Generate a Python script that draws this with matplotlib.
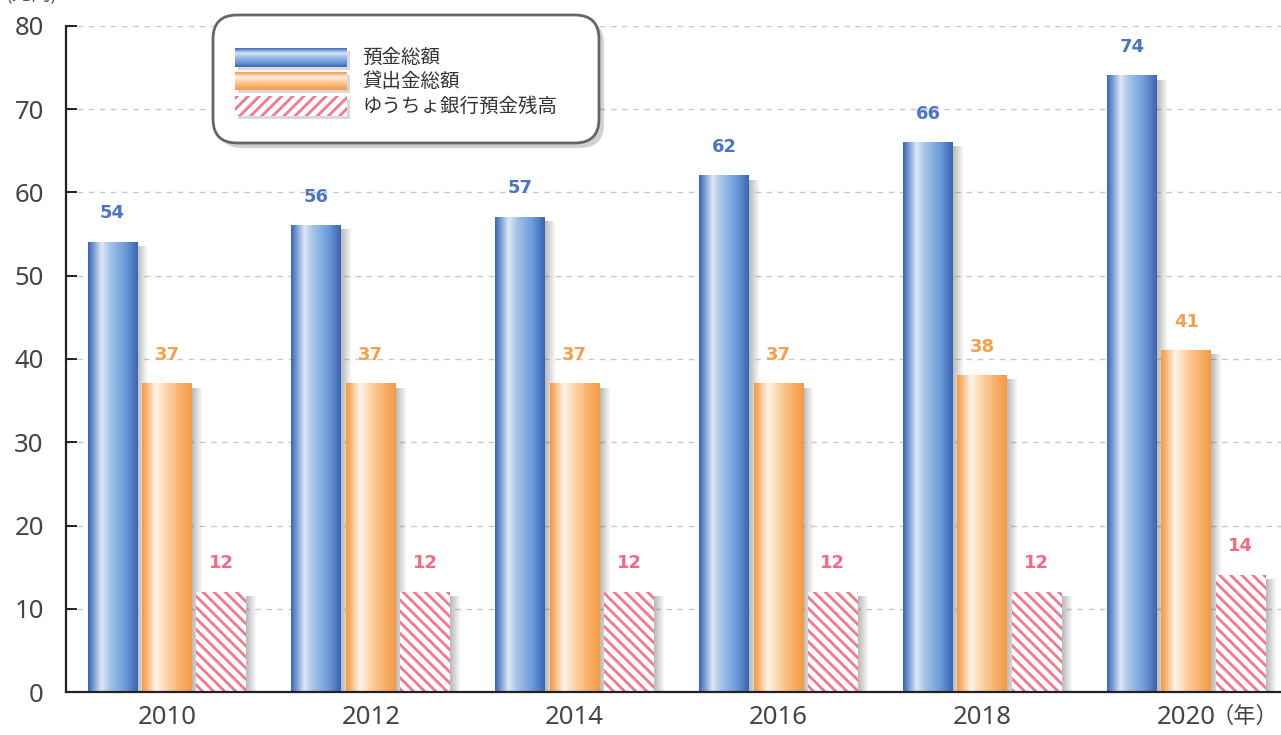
import numpy as np
import matplotlib
matplotlib.use('Agg')
import matplotlib.pyplot as plt
from matplotlib.patches import FancyBboxPatch, Rectangle
from matplotlib.colors import LinearSegmentedColormap

# ---- data ----
years = ['2010', '2012', '2014', '2016', '2018', '2020']
deposits = [54, 56, 57, 62, 66, 74]        # 預金総額
loans = [37, 37, 37, 37, 38, 41]           # 貸出金総額
yucho = [12, 12, 12, 12, 12, 14]           # ゆうちょ銀行預金残高
series_names = ['預金総額', '貸出金総額', 'ゆうちょ銀行預金残高']
yticks = [0, 10, 20, 30, 40, 50, 60, 70, 80]
unit_label = '(兆円)'
year_suffix = '（年）'

plt.rcParams['font.family'] = ['Noto Sans', 'Noto Sans CJK JP', 'DejaVu Sans']
plt.rcParams['hatch.linewidth'] = 2.0

W, H = 1281, 735
fig = plt.figure(figsize=(W / 100, H / 100), dpi=100)
ax = fig.add_axes([66 / W, 1 - 692 / H, 1 - 66 / W, (692 - 26) / H])

blue_c = '#4a74c4'
orange_c = '#f5a050'
pink_c = '#f36a82'
hatch_c = '#f4778c'

blue_cmap = LinearSegmentedColormap.from_list('b', [
    (0.0, '#3a64b4'), (0.1, '#6f95d0'), (0.27, '#dde8f6'), (0.45, '#a3c2e8'),
    (0.75, '#6b9bd9'), (1.0, '#3a64b4')])
orange_cmap = LinearSegmentedColormap.from_list('o', [
    (0.0, '#f39a42'), (0.1, '#f8b577'), (0.28, '#fff4ea'), (0.5, '#fdd2a6'),
    (0.8, '#f9ad64'), (1.0, '#f39a42')])

grad = np.linspace(0, 1, 256).reshape(1, -1)
x = np.arange(len(years))
w = 0.245
off = 0.267


def add_shadow(x1, h):
    rgba = np.zeros((1, 64, 4))
    rgba[..., :3] = 0.3
    rgba[..., 3] = np.linspace(0.4, 0.0, 64)
    ax.imshow(rgba, extent=[x1, x1 + 0.05, 0, h - 0.5], aspect='auto',
              zorder=1.5, interpolation='bilinear')


def gradient_bars(vals, xpos, cmap):
    bars = ax.bar(xpos, vals, w, facecolor='none', edgecolor='none', zorder=2)
    for r in bars:
        x0, hh, ww = r.get_x(), r.get_height(), r.get_width()
        add_shadow(x0 + ww, hh)
        ax.imshow(grad, cmap=cmap, extent=[x0, x0 + ww, 0, hh], aspect='auto',
                  zorder=2, interpolation='bicubic')
    return bars


gradient_bars(deposits, x - off, blue_cmap)
gradient_bars(loans, x, orange_cmap)
pb = ax.bar(x + off, yucho, w, facecolor='white', edgecolor=hatch_c,
            linewidth=0, hatch='\\\\\\', zorder=2)
for r in pb:
    add_shadow(r.get_x() + r.get_width(), r.get_height())

for vals, xpos, c in [(deposits, x - off, blue_c), (loans, x, orange_c),
                      (yucho, x + off, pink_c)]:
    for xi, v in zip(xpos, vals):
        ax.text(xi, v + 2.4, str(v), ha='center', va='bottom', color=c,
                fontsize=13, fontweight='bold', family='DejaVu Sans', zorder=4)

ax.set_xlim(-0.495, 5.465)
ax.set_ylim(0, 80)
ax.set_yticks(yticks)
ax.set_xticks(x)
ax.set_xticklabels(years)
ax.yaxis.grid(True, linestyle=(0, (4, 4)), color='#c8c8c8', linewidth=1.0)
ax.set_axisbelow(True)
for s in ['top', 'right']:
    ax.spines[s].set_visible(False)
for s in ['left', 'bottom']:
    ax.spines[s].set_linewidth(1.6)
    ax.spines[s].set_color('#222222')
    ax.spines[s].set_zorder(5)
ax.tick_params(axis='y', direction='in', length=8, width=1.4, pad=16,
               labelsize=18.5, labelcolor='#444444', color='#222222')
ax.tick_params(axis='x', length=0, pad=9, labelsize=18.5, labelcolor='#444444')

ax.annotate(year_suffix, xy=(5, 0), xycoords=ax.get_xaxis_transform(),
            xytext=(18, -9), textcoords='offset points', ha='left', va='top',
            fontsize=16, color='#444444', family=['Noto Sans CJK JP', 'DejaVu Sans'])

fig.text(5 / W, 1 - 5 / H, unit_label, ha='left', va='bottom', fontsize=14,
         color='#555555', family=['Noto Sans CJK JP', 'DejaVu Sans'])

# ---- legend (drawn in pixel space) ----
lax = fig.add_axes([0, 0, 1, 1], zorder=10)
lax.axis('off')
lax.patch.set_alpha(0)
lax.add_patch(FancyBboxPatch((218, 20), 386, 128,
                             boxstyle='round,pad=0,rounding_size=24',
                             fc='#000000', ec='none', alpha=0.18, zorder=1))
lax.add_patch(FancyBboxPatch((213, 15), 386, 128,
                             boxstyle='round,pad=0,rounding_size=24',
                             fc='white', ec='#666666', lw=2, zorder=1.1))
sw_x0, sw_x1 = 235, 347
rows = [(48, 67), (72, 90), (96, 116)]
for (t, b) in rows:
    lax.add_patch(Rectangle((sw_x0 + 3, t + 3), sw_x1 - sw_x0, b - t,
                            fc='#000000', ec='none', alpha=0.15, zorder=2))
lax.imshow(grad.T, cmap=blue_cmap, extent=[sw_x0, sw_x1, rows[0][1], rows[0][0]],
           aspect='auto', interpolation='bicubic', zorder=3)
lax.imshow(grad.T, cmap=orange_cmap, extent=[sw_x0, sw_x1, rows[1][1], rows[1][0]],
           aspect='auto', interpolation='bicubic', zorder=3)
lax.add_patch(Rectangle((sw_x0, rows[2][0]), sw_x1 - sw_x0, rows[2][1] - rows[2][0],
                        fc='white', ec=hatch_c, lw=0, hatch='///', zorder=3))
for (t, b), name in zip(rows, series_names):
    lax.text(362, (t + b) / 2, name, ha='left', va='center', fontsize=14,
             color='#333333', family=['Noto Sans CJK JP', 'DejaVu Sans'], zorder=4)
lax.set_xlim(0, W)
lax.set_ylim(H, 0)

fig.savefig('out.png', dpi=100)
